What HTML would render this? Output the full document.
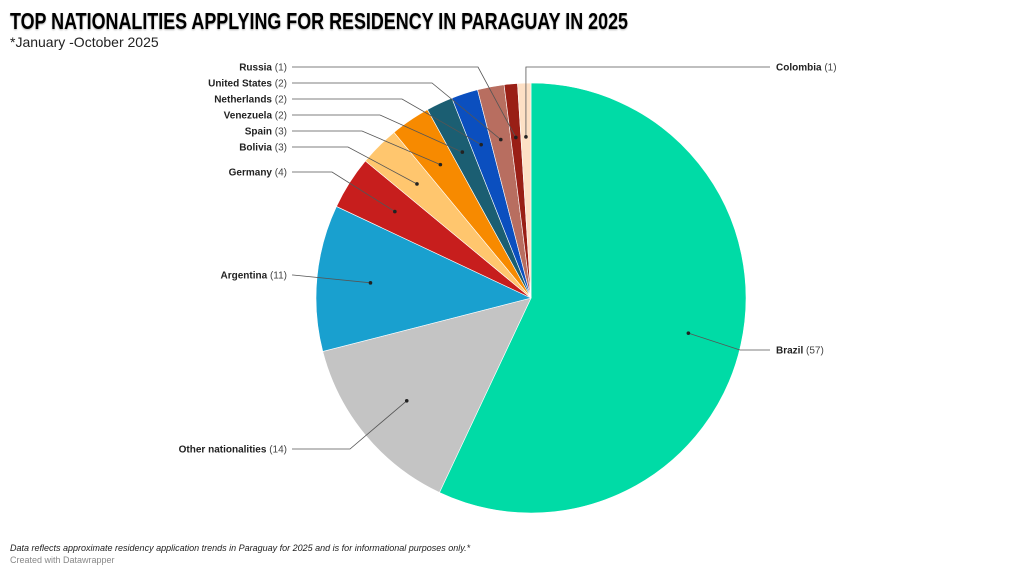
<!DOCTYPE html>
<html><head><meta charset="utf-8"><style>
html,body{margin:0;padding:0;background:#fff;width:1024px;height:576px;overflow:hidden}
svg{display:block;font-family:"Liberation Sans",sans-serif}
</style></head><body>
<svg id="s" width="1024" height="576" viewBox="0 0 1024 576">
<text x="10" y="29" font-size="23" font-weight="bold" fill="#000" textLength="618" lengthAdjust="spacingAndGlyphs" style="text-shadow:0 1px 2px rgba(0,0,0,.3)">TOP NATIONALITIES APPLYING FOR RESIDENCY IN PARAGUAY IN 2025</text>
<text x="10" y="47" font-size="14" fill="#222">*January -October 2025</text>
<g id="pie"></g>
<g id="lab" font-size="10" fill="#333"></g>
<text x="10" y="551" font-size="9" font-style="italic" fill="#222">Data reflects approximate residency application trends in Paraguay for 2025 and is for informational purposes only.*</text>
<text x="10" y="563" font-size="9" fill="#888">Created with Datawrapper</text>
</svg>
<script>
var cx=531,cy=298,R=215,NS="http://www.w3.org/2000/svg";
var d=[["Brazil",57,"#00dba6"],["Other nationalities",14,"#c4c4c4"],["Argentina",11,"#19a0cf"],["Germany",4,"#c71e1d"],["Bolivia",3,"#ffc66e"],["Spain",3,"#f78a00"],["Venezuela",2,"#1b5e72"],["Netherlands",2,"#0b4fbf"],["United States",2,"#b86e60"],["Russia",1,"#991f16"],["Colombia",1,"#fde0c5"]];
// label y, elbow x
var L={"Brazil":[350,"R"],"Other nationalities":[449,350],"Argentina":[275,293],"Germany":[172,332],"Bolivia":[147,348],"Spain":[131,362],"Venezuela":[115,380],"Netherlands":[99,402],"United States":[83,432],"Russia":[67,478],"Colombia":[67,"C"]};
var pie=document.getElementById("pie"),lab=document.getElementById("lab");
function el(t,a,p,txt){var e=document.createElementNS(NS,t);for(var k in a)e.setAttribute(k,a[k]);if(txt!=null)e.textContent=txt;p.appendChild(e);return e;}
function pt(a,r){return [cx+r*Math.sin(a),cy-r*Math.cos(a)];}
var acc=0;
d.forEach(function(s){
 var a0=acc/100*2*Math.PI;acc+=s[1];var a1=acc/100*2*Math.PI;
 var p0=pt(a0,R),p1=pt(a1,R);
 el("path",{d:"M"+cx+","+cy+"L"+p0+"A"+R+","+R+" 0 "+((a1-a0)>Math.PI?1:0)+" 1 "+p1+"Z",fill:s[2],stroke:"#fff","stroke-width":"0.6"},pie);
 s.mid=(a0+a1)/2;
});
d.forEach(function(s){
 var dot=pt(s.mid,R*0.75),l=L[s[0]],y=l[0],pts;
 var g=el("g",{},lab);
 if(l[1]=="R"){pts=[dot,[740,y],[770,y]];}
 else if(l[1]=="C"){pts=[dot,[dot[0],y],[770,y]];}
 else{pts=[dot,[l[1],y],[292,y]];}
 el("polyline",{points:pts.join(" "),fill:"none",stroke:"#555","stroke-width":"0.8"},g);
 el("circle",{cx:dot[0],cy:dot[1],r:1.8,fill:"#222"},g);
 var t;
 if(l[1]=="R"||l[1]=="C"){t=el("text",{x:776,y:y+3.5},g);}
 else{t=el("text",{x:287,y:y+3.5,"text-anchor":"end"},g);}
 el("tspan",{"font-weight":"bold",fill:"#222"},t,s[0]);
 el("tspan",{fill:"#444"},t," ("+s[1]+")");
});
</script>
</body></html>
